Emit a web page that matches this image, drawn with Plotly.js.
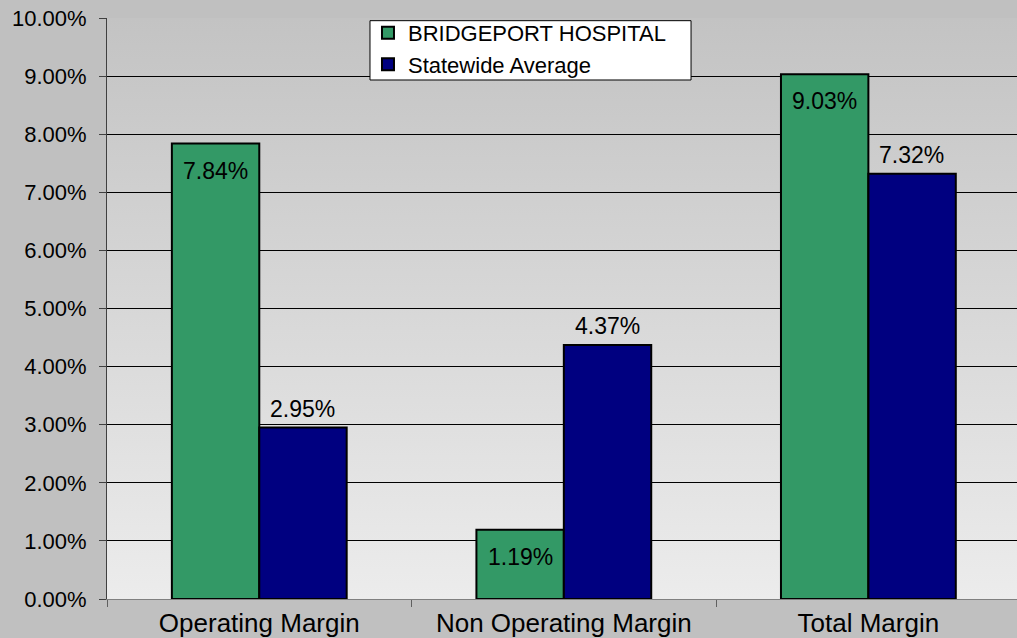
<!DOCTYPE html>
<html>
<head>
<meta charset="utf-8">
<script src="https://cdn.plot.ly/plotly-3.0.1.min.js"></script>
<style>
html,body{margin:0;padding:0;background:#c0c0c0;}
#chart{width:1017px;height:638px;}
</style>
</head>
<body>
<div id="chart"></div>
<script>
const categories = ["Operating Margin", "Non Operating Margin", "Total Margin"];
const hospitalName = "BRIDGEPORT HOSPITAL";
const hospitalValues = [0.0784, 0.0119, 0.0903];
const statewideName = "Statewide Average";
const statewideValues = [0.0295, 0.0437, 0.0732];
const yTickVals = [0, 0.01, 0.02, 0.03, 0.04, 0.05, 0.06, 0.07, 0.08, 0.09, 0.10];

const FONT = "Liberation Sans, Arial, sans-serif";
const GREEN = "#339966", NAVY = "#000080";

const gradSvg = "<svg xmlns='http://www.w3.org/2000/svg' width='100' height='100' preserveAspectRatio='none'>" +
  "<defs><linearGradient id='g' x1='0' y1='0' x2='0' y2='1'>" +
  "<stop offset='0' stop-color='#c3c3c3'/><stop offset='1' stop-color='#ececec'/></linearGradient></defs>" +
  "<rect width='100' height='100' fill='url(#g)'/></svg>";
const gradUri = "data:image/svg+xml;charset=utf-8," + encodeURIComponent(gradSvg);

const traces = [
  {type: "bar", name: hospitalName, x: categories, y: hospitalValues,
   marker: {color: GREEN, line: {color: "#000", width: 2}}, hoverinfo: "skip"},
  {type: "bar", name: statewideName, x: categories, y: statewideValues,
   marker: {color: NAVY, line: {color: "#000", width: 2}}, hoverinfo: "skip"}
];

const annotations = [];
categories.forEach((c, i) => {
  annotations.push({x: c, y: hospitalValues[i], xref: "x", yref: "y", xshift: -43.6, yshift: -27,
    text: (hospitalValues[i]*100).toFixed(2) + "%", showarrow: false, yanchor: "middle",
    font: {family: FONT, size: 23, color: "#000"}});
  annotations.push({x: c, y: statewideValues[i], xref: "x", yref: "y", xshift: 43.6, yshift: 19,
    text: (statewideValues[i]*100).toFixed(2) + "%", showarrow: false, yanchor: "middle",
    font: {family: FONT, size: 23, color: "#000"}});
});

const layout = {
  width: 1017, height: 638,
  margin: {l: 107, r: 0, t: 18, b: 39, pad: 0},
  paper_bgcolor: "#c0c0c0",
  plot_bgcolor: "rgba(0,0,0,0)",
  font: {family: FONT, color: "#000"},
  barmode: "group",
  bargap: 0.426,
  bargroupgap: 0,
  showlegend: true,
  legend: {x: 0.2868, y: 1.0105, xanchor: "left", yanchor: "top",
    bgcolor: "rgba(0,0,0,0)", borderwidth: 0,
    font: {family: FONT, size: 22, color: "#000"}, traceorder: "normal",
    tracegroupgap: 0},
  shapes: [{type: "rect", xref: "paper", yref: "paper", x0: 0.289, x1: 0.6418, y0: 0.8933, y1: 0.9954,
    fillcolor: "#ffffff", line: {color: "#000", width: 1}, layer: "above"}],
  xaxis: {type: "category", range: [-0.5, 2.488], fixedrange: true,
    showline: true, linecolor: "#808080", linewidth: 1,
    ticks: "outside", tickson: "boundaries", ticklen: 7, tickcolor: "#606060", tickwidth: 1,
    showgrid: false, automargin: false,
    tickfont: {family: FONT, size: 26, color: "#000"}, ticklabelstandoff: 1},
  yaxis: {range: [0, 0.10], tickvals: yTickVals, tickformat: ".2%",
    showline: true, linecolor: "#404040", linewidth: 1,
    ticks: "outside", ticklen: 7, tickcolor: "#404040", tickwidth: 1,
    showgrid: true, gridcolor: "#000", gridwidth: 1, zeroline: false, automargin: false,
    tickfont: {family: FONT, size: 22, color: "#000"}, ticklabelstandoff: 8},
  images: [{source: gradUri, xref: "paper", yref: "paper", x: 0, y: 1, sizex: 1, sizey: 1,
    xanchor: "left", yanchor: "top", sizing: "stretch", layer: "below"}],
  annotations: annotations
};

Plotly.newPlot("chart", traces, layout, {displayModeBar: false, staticPlot: true});
</script>
</body>
</html>
